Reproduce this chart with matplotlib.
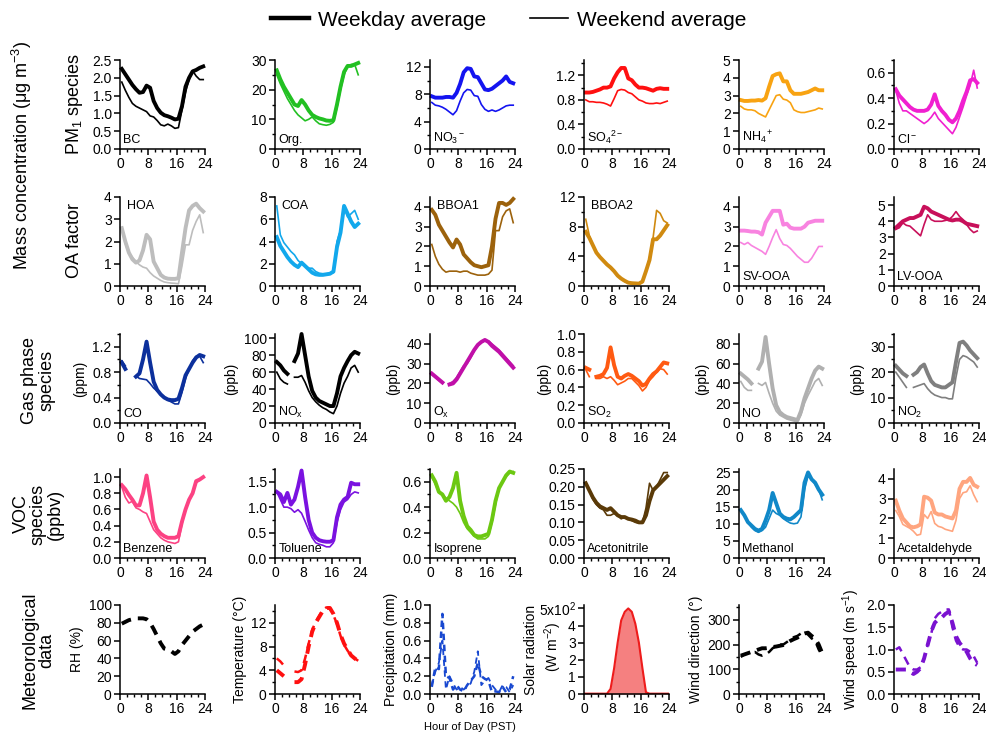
import numpy as np
import matplotlib.pyplot as plt
from matplotlib.lines import Line2D
from matplotlib.ticker import MultipleLocator

plt.rcParams['font.family'] = ['Liberation Sans', 'DejaVu Sans']
plt.rcParams['mathtext.fontset'] = 'custom'
plt.rcParams['mathtext.rm'] = 'Liberation Sans'
plt.rcParams['mathtext.it'] = 'Liberation Sans:italic'
plt.rcParams['mathtext.default'] = 'regular'

nan = np.nan
hours = np.arange(0.5, 24, 1)

# ---- PM1 species ----
bc_wd = [2.25, 2.1, 1.95, 1.8, 1.68, 1.58, 1.6, 1.78, 1.72, 1.35, 1.15, 1.02,
         0.95, 0.92, 0.88, 0.83, 0.85, 1.2, 1.75, 2.0, 2.18, 2.22, 2.28, 2.32]
bc_we = [1.88, 1.65, 1.45, 1.28, 1.2, 1.15, 1.1, 1.05, 0.93, 0.9, 0.8, 0.68,
         0.65, 0.7, 0.65, 0.58, 0.6, 1.1, 1.6, 1.95, 2.2, 2.05, 1.95, 1.95]
org_wd = [26.5, 23.5, 21, 19, 17, 15, 14.5, 16.5, 15, 13, 11.5, 10.8,
          10.3, 10, 9.6, 9.5, 9.7, 15, 21, 26, 28, 28, 28.5, 29]
org_we = [25, 22, 19.5, 17, 15, 13, 11.5, 10.5, 9.5, 10, 10.8, 9.5,
          8.5, 8.2, 8, 8.3, 9, 14, 20, 25, 28, 28.5, 28.5, 25]
no3_wd = [7.7, 7.5, 7.5, 7.5, 7.6, 7.6, 7.5, 8.2, 9.5, 11.2, 11.8, 11.7,
          10.6, 10.5, 9.6, 8.7, 8.6, 8.8, 9.2, 9.6, 10.0, 10.6, 9.8, 9.6]
no3_we = [6.8, 6.4, 6.3, 6.1, 5.8, 5.4, 5.0, 5.6, 7.0, 8.2, 8.7, 8.6,
          7.8, 7.7, 6.5, 5.8, 5.5, 5.7, 5.5, 5.7, 6.0, 6.3, 6.4, 6.4]
so4_wd = [0.92, 0.92, 0.93, 0.95, 0.97, 1.0, 1.0, 1.02, 1.15, 1.25, 1.32, 1.32,
          1.15, 1.12, 1.05, 1.0, 1.0, 0.99, 0.97, 0.95, 0.98, 0.99, 0.98, 0.98]
so4_we = [0.8, 0.77, 0.77, 0.76, 0.76, 0.75, 0.73, 0.7, 0.82, 0.95, 0.97, 0.96,
          0.92, 0.9, 0.85, 0.8, 0.78, 0.75, 0.74, 0.74, 0.75, 0.74, 0.76, 0.78]
nh4_wd = [2.75, 2.7, 2.7, 2.72, 2.72, 2.75, 2.72, 2.85, 3.5, 4.1, 4.2, 4.25,
          3.8, 3.8, 3.3, 3.1, 3.1, 3.1, 3.15, 3.2, 3.3, 3.4, 3.3, 3.3]
nh4_we = [2.4, 2.25, 2.2, 2.2, 2.15, 2.0, 1.9, 1.8, 2.2, 2.6, 3.0, 3.05,
          2.8, 2.75, 2.6, 2.2, 2.1, 2.05, 2.05, 2.1, 2.15, 2.2, 2.3, 2.25]
cl_wd = [0.47, 0.42, 0.39, 0.36, 0.33, 0.31, 0.3, 0.3, 0.3, 0.31, 0.35, 0.43,
         0.34, 0.3, 0.27, 0.23, 0.21, 0.24, 0.3, 0.38, 0.45, 0.54, 0.55, 0.52]
cl_we = [0.46, 0.36, 0.3, 0.3, 0.28, 0.26, 0.24, 0.22, 0.2, 0.22, 0.25, 0.29,
         0.24, 0.21, 0.18, 0.15, 0.12, 0.17, 0.25, 0.33, 0.42, 0.5, 0.62, 0.48]

# ---- OA factors ----
hoa_wd = [2.6, 2.0, 1.5, 1.2, 1.05, 1.15, 1.6, 2.3, 2.1, 1.1, 0.8, 0.5,
          0.38, 0.33, 0.32, 0.32, 0.35, 1.5, 2.6, 3.4, 3.6, 3.7, 3.5, 3.35]
hoa_we = [2.6, 1.9, 1.5, 1.3, 1.1, 0.95, 0.85, 0.8, 0.6, 0.45, 0.35, 0.25,
          0.18, 0.15, 0.13, 0.12, 0.1, 0.9, 1.85, 1.85, 2.5, 2.9, 3.2, 2.4]
coa_wd = [4.4, 3.6, 3.1, 2.6, 2.2, 1.9, 1.7, 2.1, 1.8, 1.5, 1.2, 1.05,
          1.0, 1.0, 1.05, 1.1, 1.3, 3.5, 4.8, 7.2, 6.5, 5.8, 5.3, 5.6]
coa_we = [7.2, 4.6, 3.9, 3.5, 3.1, 2.8, 2.3, 2.0, 1.8, 1.6, 1.6, 1.3,
          1.15, 1.1, 1.1, 1.15, 1.2, 4.0, 5.0, 7.0, 6.2, 6.5, 6.8, 6.0]
bboa1_wd = [3.85, 3.6, 3.1, 2.8, 2.5, 2.2, 1.95, 2.35, 2.1, 1.6, 1.4, 1.2,
            1.05, 1.0, 0.95, 1.0, 1.05, 2.0, 3.4, 4.2, 4.2, 4.1, 4.2, 4.4]
bboa1_we = [2.1, 1.5, 1.1, 0.85, 0.7, 0.75, 0.75, 0.75, 0.7, 0.75, 0.75, 0.65,
            0.6, 0.55, 0.55, 0.55, 0.6, 0.8, 2.8, 2.8, 3.5, 3.8, 3.9, 3.2]
bboa2_wd = [7.3, 6.5, 5.5, 4.5, 3.9, 3.4, 2.9, 2.5, 2.0, 1.4, 1.0, 0.7,
            0.45, 0.38, 0.35, 0.32, 0.6, 2.0, 3.5, 6.3, 6.3, 6.8, 7.5, 8.2]
bboa2_we = [9.0, 6.8, 5.6, 4.6, 3.9, 3.3, 2.8, 2.4, 1.9, 1.3, 0.9, 0.6,
            0.4, 0.35, 0.32, 0.3, 0.5, 2.0, 3.8, 6.5, 10.2, 9.8, 8.8, 8.5]
svooa_wd = [2.8, 2.8, 2.78, 2.75, 2.75, 2.72, 2.6, 3.2, 3.5, 3.8, 3.8, 3.8,
            3.1, 3.15, 2.95, 2.9, 2.9, 2.9, 3.0, 3.2, 3.25, 3.3, 3.3, 3.3]
svooa_we = [2.2, 2.1, 2.2, 2.05, 1.95, 1.85, 1.75, 1.6, 2.0, 2.45, 2.85, 2.4,
            2.1, 2.05, 1.9, 1.7, 1.5, 1.35, 1.2, 1.2, 1.4, 1.7, 2.0, 2.0]
lvooa_wd = [3.6, 3.8, 4.0, 4.1, 4.2, 4.2, 4.3, 4.4, 4.9, 4.8, 4.6, 4.5,
            4.4, 4.3, 4.2, 4.1, 4.05, 4.1, 4.1, 4.0, 3.85, 3.8, 3.75, 3.7]
lvooa_we = [3.5, 3.6, 3.9, 3.75, 3.7, 3.5, 3.3, 3.1, 3.8, 4.4, 4.1, 4.0,
            4.0, 4.0, 4.05, 4.1, 4.3, 4.6, 4.3, 4.1, 3.8, 3.5, 3.3, 3.4]

# ---- gas phase species ----
co_wd = [0.95, 0.85, nan, nan, 0.73, 0.78, 1.0, 1.28, 0.95, 0.65, 0.52, 0.45,
         0.4, 0.37, 0.36, 0.36, 0.38, 0.55, 0.75, 0.85, 0.95, 1.03, 1.07, 1.05]
co_we = [0.98, 0.9, nan, nan, 0.74, 0.7, 0.69, 0.68, 0.62, 0.55, 0.5, 0.45,
         0.4, 0.36, 0.33, 0.3, 0.3, 0.48, 0.7, 0.85, 0.98, 1.05, 1.05, 0.95]
nox_wd = [72, 68, 62, 58, nan, 73, 82, 105, 80, 55, 38, 30,
          26, 24, 22, 20, 20, 35, 55, 65, 73, 80, 84, 82]
nox_we = [60, 52, 48, 46, nan, 54, 54, 56, 48, 38, 30, 25,
          21, 18, 16, 13, 11, 20, 35, 47, 55, 65, 68, 60]
ox_wd = [25, 23.5, 22, 20.5, nan, 19.5, 20, 22, 25, 28, 31, 34,
         37, 39.5, 41, 42, 41, 39, 37.5, 36, 34, 32, 30, 28]
ox_we = [24.5, 23, 21.5, 20, nan, 20, 21, 23, 26, 29, 30, 33,
         36.5, 39, 41, 41.5, 41.5, 40, 38.5, 37, 35, 33, 31, 29]
so2_wd = [0.62, 0.6, nan, 0.52, 0.53, 0.55, 0.62, 0.85, 0.65, 0.52, 0.5, 0.53,
          0.55, 0.53, 0.5, 0.47, 0.42, 0.44, 0.5, 0.55, 0.58, 0.63, 0.68, 0.67]
so2_we = [0.6, 0.52, nan, 0.5, 0.5, 0.52, 0.5, 0.52, 0.48, 0.43, 0.45, 0.47,
          0.5, 0.5, 0.46, 0.42, 0.36, 0.4, 0.48, 0.52, 0.57, 0.61, 0.6, 0.55]
no_wd = [50, 47, 44, 40, nan, 55, 62, 87, 60, 35, 18, 11,
         8, 6, 5, 4, 3, 12, 25, 35, 45, 53, 57, 55]
no_we = [42, 36, 33, 33, nan, 40, 38, 41, 30, 20, 12, 8,
         6, 4, 3, 2, 1, 8, 20, 28, 35, 42, 45, 38]
no2_wd = [22.5, 21, 19.5, 18.5, nan, 19, 20, 22, 23, 19.5, 16.5, 15,
          14.5, 14, 14, 15, 16, 24, 31.5, 32, 30.5, 28.5, 27, 25.5]
no2_we = [20, 18, 16, 14, nan, 14, 14.5, 15, 15.5, 13.5, 12, 11,
          10.5, 10, 10, 9.5, 9.5, 18, 25, 26.5, 26, 25, 24, 22]

# ---- VOC species ----
benz_wd = [0.9, 0.85, 0.78, 0.72, 0.65, 0.65, 0.8, 1.02, 0.75, 0.45, 0.35, 0.3,
           0.27, 0.25, 0.25, 0.25, 0.27, 0.45, 0.6, 0.72, 0.8, 0.95, 0.97, 1.0]
benz_we = [0.88, 0.75, 0.68, 0.7, 0.62, 0.6, 0.57, 0.55, 0.45, 0.35, 0.3, 0.25,
           0.22, 0.2, 0.19, 0.18, 0.2, 0.42, 0.6, 0.72, 0.8, 0.93, 0.96, 1.0]
tol_wd = [1.3, 1.25, 1.1, 1.28, 1.05, 1.15, 1.4, 1.72, 1.2, 0.75, 0.5, 0.4,
          0.35, 0.33, 0.32, 0.32, 0.35, 0.8, 1.05, 1.15, 1.2, 1.48, 1.45, 1.45]
tol_we = [1.3, 1.15, 1.0, 1.0, 0.97, 0.9, 0.95, 0.88, 0.72, 0.55, 0.4, 0.3,
          0.27, 0.25, 0.22, 0.22, 0.3, 0.7, 0.95, 1.1, 1.15, 1.25, 1.3, 1.28]
iso_wd = [0.65, 0.6, 0.52, 0.5, 0.45, 0.48, 0.55, 0.67, 0.45, 0.33, 0.25, 0.22,
          0.18, 0.17, 0.17, 0.18, 0.19, 0.3, 0.45, 0.55, 0.6, 0.65, 0.68, 0.67]
iso_we = [0.64, 0.58, 0.52, 0.5, 0.47, 0.45, 0.43, 0.4, 0.35, 0.28, 0.23, 0.2,
          0.17, 0.15, 0.15, 0.15, 0.17, 0.28, 0.42, 0.55, 0.6, 0.64, 0.67, 0.68]
acn_wd = [0.21, 0.19, 0.17, 0.155, 0.145, 0.14, 0.135, 0.14, 0.13, 0.12, 0.115, 0.115,
          0.11, 0.108, 0.105, 0.1, 0.1, 0.12, 0.16, 0.19, 0.2, 0.21, 0.22, 0.23]
acn_we = [0.21, 0.19, 0.165, 0.15, 0.14, 0.135, 0.12, 0.12, 0.125, 0.12, 0.11, 0.115,
          0.11, 0.105, 0.1, 0.098, 0.1, 0.14, 0.21, 0.19, 0.2, 0.22, 0.24, 0.24]
meoh_wd = [14, 12.5, 10.5, 9.5, 8.5, 8, 8.5, 11, 14, 19, 16, 13,
           12, 11.5, 11.3, 12, 13, 14, 22, 25, 23, 22, 20, 18.5]
meoh_we = [14, 12.5, 10.5, 9, 8, 7.5, 8, 9, 11.5, 14, 13, 12.5,
           11.5, 10.8, 10.2, 10, 10.2, 12, 20, 24, 23, 21.5, 20, 17]
acet_wd = [2.9, 2.4, 2.0, 1.8, 1.6, 1.55, 1.6, 1.7, 3.1, 3.05, 2.9, 2.3,
           2.2, 2.2, 2.1, 2.05, 2.0, 2.4, 3.5, 3.85, 3.85, 4.05, 3.7, 3.6]
acet_we = [2.4, 2.1, 1.7, 1.6, 1.5, 1.35, 1.15, 1.2, 2.2, 2.0, 2.35, 1.75,
           1.6, 1.55, 1.45, 1.4, 1.35, 1.9, 3.0, 3.3, 3.35, 3.65, 3.2, 2.85]

# ---- meteorological data ----
rh_wd = [79, 81, 83, 84, 85, 85, 85, 84, 80, 73, 65, 57,
         51, 50, 48, 45, 48, 55, 60, 65, 70, 73, 76, 78]
temp_wd = [4.0, 3.5, 3.0, nan, nan, 2.0, 2.0, 2.5, 5.0, 8.0, 10.5, 12.0,
           13.0, 14.0, 14.5, 14.5, 13.5, 12.0, 10.0, 8.5, 7.5, 6.5, 6.0, 5.5]
temp_we = [6.0, 5.5, 4.8, nan, nan, 3.8, 3.7, 4.0, 6.0, 8.5, 10.8, 12.2,
           13.2, 14.2, 14.6, 14.4, 13.3, 11.8, 9.8, 8.3, 7.3, 6.5, 6.0, 5.6]
prec_wd = [0.08, 0.3, 0.28, 0.9, 0.2, 0.18, 0.05, 0.1, 0.05, 0.03, 0.1, 0.15,
           0.2, 0.35, 0.2, 0.17, 0.15, 0.02, 0.03, 0.02, 0.08, 0.02, 0.05, 0.2]
prec_we = [0.1, 0.25, 0.35, 0.6, 0.05, 0.2, 0.12, 0.05, 0.08, 0.05, 0.08, 0.12,
           0.25, 0.48, 0.1, 0.15, 0.18, 0.1, 0.05, 0.02, 0.1, 0.08, 0.02, 0.1]
solar_wd = [0.02, 0.02, 0.02, 0.02, 0.02, 0.02, 0.02, 0.3, 1.5, 3.0, 4.3, 4.8,
            5.0, 4.8, 4.1, 3.0, 1.5, 0.1, 0.02, 0.02, 0.02, 0.02, 0.02, 0.02]
wdir_wd = [155, 160, 165, 170, 175, 180, 185, 185, 187, 190, 192, 195,
           198, 205, 215, 222, 228, 240, 245, 248, 235, 225, 200, 165]
wdir_we = [150, 160, 165, 168, 170, 160, 155, 160, 170, 185, 195, 200,
           200, 210, 220, 230, 235, 245, 250, 240, 225, 215, 180, 155]
wspd_wd = [0.55, 0.55, 0.55, 0.55, 0.5, 0.45, 0.5, 0.58, 0.8, 1.1, 1.4, 1.6,
           1.68, 1.72, 1.8, 1.85, 1.6, 1.3, 1.15, 1.05, 0.95, 0.8, 0.7, 0.65]
wspd_we = [1.0, 1.05, 0.9, 0.75, 0.6, 0.55, 0.55, 0.6, 0.8, 1.1, 1.35, 1.7,
           1.8, 1.85, 1.9, 1.9, 1.5, 1.2, 1.05, 1.0, 1.0, 0.95, 0.85, 0.7]

# panel: (label, weekday, weekend, colour, ymax, major, minor, label place, ylabel)
rows = [
    [('BC', bc_wd, bc_we, 'black', 2.5, 0.5, None, 'bl', None),
     ('Org.', org_wd, org_we, '#22c022', 30, 10, 5, 'bl', None),
     (r'NO$_3$$^-$', no3_wd, no3_we, '#1414f0', 13, 4, 2, 'bl', None),
     (r'SO$_4$$^{2-}$', so4_wd, so4_we, '#ff1010', 1.45, 0.4, 0.2, 'bl', None),
     (r'NH$_4$$^+$', nh4_wd, nh4_we, '#f8a312', 5, 1, None, 'bl', None),
     (r'Cl$^-$', cl_wd, cl_we, '#f020d0', 0.7, 0.2, 0.1, 'bl', None)],
    [('HOA', hoa_wd, hoa_we, '#bdbdbd', 4, 1, None, 'tl', None),
     ('COA', coa_wd, coa_we, '#12a8ec', 8, 2, None, 'tl', None),
     ('BBOA1', bboa1_wd, bboa1_we, '#9c620c', 4.5, 1, None, 'tl', None),
     ('BBOA2', bboa2_wd, bboa2_we, '#d08a10', 12, 4, 2, 'tl', None),
     ('SV-OOA', svooa_wd, svooa_we, '#f883e0', 4.5, 1, None, 'bl', None),
     ('LV-OOA', lvooa_wd, lvooa_we, '#c8105a', 5.5, 1, None, 'bl', None)],
    [('CO', co_wd, co_we, '#0c309c', 1.4, 0.4, 0.2, 'bl', '(ppm)'),
     (r'NO$_x$', nox_wd, nox_we, 'black', 105, 20, None, 'bl', '(ppb)'),
     (r'O$_x$', ox_wd, ox_we, '#c010a8', 45, 10, None, 'bl', '(ppb)'),
     (r'SO$_2$', so2_wd, so2_we, '#ff5a12', 1.0, 0.2, None, 'bl', '(ppb)'),
     ('NO', no_wd, no_we, '#b0b0b0', 90, 20, None, 'bl', '(ppb)'),
     (r'NO$_2$', no2_wd, no2_we, '#7f7f7f', 35, 10, 5, 'bl', '(ppb)')],
    [('Benzene', benz_wd, benz_we, '#fc4283', 1.1, 0.2, None, 'bl', None),
     ('Toluene', tol_wd, tol_we, '#7a12e0', 1.75, 0.5, 0.25, 'bl', None),
     ('Isoprene', iso_wd, iso_we, '#6cc812', 0.7, 0.2, 0.1, 'bl', None),
     ('Acetonitrile', acn_wd, acn_we, '#5a3a08', 0.25, 0.05, None, 'bl', None),
     ('Methanol', meoh_wd, meoh_we, '#1088c8', 26, 5, None, 'bl', None),
     ('Acetaldehyde', acet_wd, acet_we, '#ffa57f', 4.5, 1, None, 'bl', None)],
]

met = [
    (rh_wd, None, 'black', 100, 20, None, 'RH (%)'),
    (temp_wd, temp_we, '#ff1010', 15, 4, 2, 'Temperature (°C)'),
    (prec_wd, prec_we, '#1848d0', 1.0, 0.2, None, 'Precipitation (mm)'),
    (solar_wd, None, '#ee1c1c', 5.2, 1, None, 'Solar radiation'),
    (wdir_wd, wdir_we, 'black', 360, 100, 50, 'Wind direction (°)'),
    (wspd_wd, wspd_we, '#7a12d0', 2.0, 0.5, None, 'Wind speed (m s$^{-1}$)'),
]

W, H = 987, 736
fig = plt.figure(figsize=(W / 100, H / 100), dpi=100)

col_x = [120, 275, 430, 584, 739, 894]
row_bottom = [149, 286, 423, 558, 694]
ax_w, ax_h = 85, 89


def make_ax(r, c):
    ax = fig.add_axes([col_x[c] / W, 1 - row_bottom[r] / H, ax_w / W, ax_h / H])
    for s in ['top', 'right']:
        ax.spines[s].set_visible(False)
    for s in ['left', 'bottom']:
        ax.spines[s].set_linewidth(1.1)
    ax.set_xlim(0, 24)
    ax.xaxis.set_major_locator(MultipleLocator(8))
    ax.xaxis.set_minor_locator(MultipleLocator(2))
    ax.tick_params(which='major', direction='out', length=4, width=1.1,
                   labelsize=10, pad=2)
    ax.tick_params(which='minor', direction='out', length=2.5, width=1.0)
    return ax


def set_y(ax, ymax, major, minor):
    ax.set_ylim(0, ymax)
    ax.yaxis.set_major_locator(MultipleLocator(major))
    if minor:
        ax.yaxis.set_minor_locator(MultipleLocator(minor))
    else:
        ax.yaxis.set_minor_locator(plt.NullLocator())


for r, row in enumerate(rows):
    for c, (lab, wd, we, col, ymax, major, minor, place, ylab) in enumerate(row):
        ax = make_ax(r, c)
        ax.plot(hours, we, color=col, lw=1.2, clip_on=False)
        ax.plot(hours, wd, color=col, lw=2.8, clip_on=False)
        set_y(ax, ymax, major, minor)
        if major < 1:
            dec = len(str(major).split('.')[1]) if major != 0.5 else 1
            ax.yaxis.set_major_formatter(plt.FormatStrFormatter('%%.%df' % dec))
        if place == 'bl':
            ax.text(0.04, 0.03, lab, transform=ax.transAxes, fontsize=9,
                    ha='left', va='bottom')
        else:
            ax.text(0.08, 0.97, lab, transform=ax.transAxes, fontsize=9,
                    ha='left', va='top')
        if ylab:
            ax.set_ylabel(ylab, fontsize=10, labelpad=4)

for c, (wd, we, col, ymax, major, minor, ylab) in enumerate(met):
    ax = make_ax(4, c)
    set_y(ax, ymax, major, minor)
    if c == 3:
        ax.fill_between(hours, 0, solar_wd, color='#f58080', lw=0)
        ax.plot(np.r_[0, hours, 24], np.r_[0.02, wd, 0.02], color=col, lw=1.5)
        ax.set_ylim(0, 5.2)
        ax.set_yticks([0, 1, 2, 3, 4, 5])
        ax.set_yticklabels(['0', '1', '2', '3', '4', r'5x10$^2$'])
    else:
        lw_main = 1.8 if c == 2 else 2.8
        if we is not None:
            ax.plot(hours, we, color=col, lw=1.3 if c == 2 else 1.8,
                    ls=(0, (3.5, 2.5)), clip_on=False)
        ax.plot(hours, wd, color=col, lw=lw_main, ls=(0, (2.6, 1.8)),
                clip_on=False)
    if major < 1:
        ax.yaxis.set_major_formatter(plt.FormatStrFormatter('%.1f'))
    if c == 3:
        ax.set_ylabel(ylab, fontsize=10)
        ax.yaxis.set_label_coords(-0.54, 0.49)
        ax.text(-0.36, 0.53, '(W m$^{-2}$)', transform=ax.transAxes,
                rotation=90, ha='center', va='center', fontsize=10)
    else:
        ax.set_ylabel(ylab, fontsize=10, labelpad=3)

# row labels
fig.text(22 / W, 1 - 155 / H, r'Mass concentration (μg m$^{-3}$)', rotation=90,
         ha='center', va='center', fontsize=13)
fig.text(75 / W, 1 - 104 / H, r'PM$_1$ species', rotation=90,
         ha='center', va='center', fontsize=13)
fig.text(75 / W, 1 - 241 / H, 'OA factor', rotation=90,
         ha='center', va='center', fontsize=13)
fig.text(38 / W, 1 - 380 / H, 'Gas phase\nspecies', rotation=90,
         ha='center', va='center', fontsize=13, linespacing=1.0)
fig.text(38 / W, 1 - 514 / H, 'VOC\nspecies\n(ppbv)', rotation=90,
         ha='center', va='center', fontsize=13, linespacing=1.0)
fig.text(38 / W, 1 - 650 / H, 'Meteorological\ndata', rotation=90,
         ha='center', va='center', fontsize=13, linespacing=1.0)
fig.text(470 / W, 1 - 727 / H, 'Hour of Day (PST)', ha='center', va='center',
         fontsize=8)

handles = [Line2D([], [], color='black', lw=3.2),
           Line2D([], [], color='black', lw=1.2)]
fig.legend(handles, ['Weekday average', 'Weekend average'], loc='center',
           bbox_to_anchor=(509 / W, 1 - 20 / H), ncol=2, frameon=False,
           fontsize=15, handlelength=1.8, handletextpad=0.45,
           columnspacing=2.1)

fig.savefig('out.png', dpi=100)
